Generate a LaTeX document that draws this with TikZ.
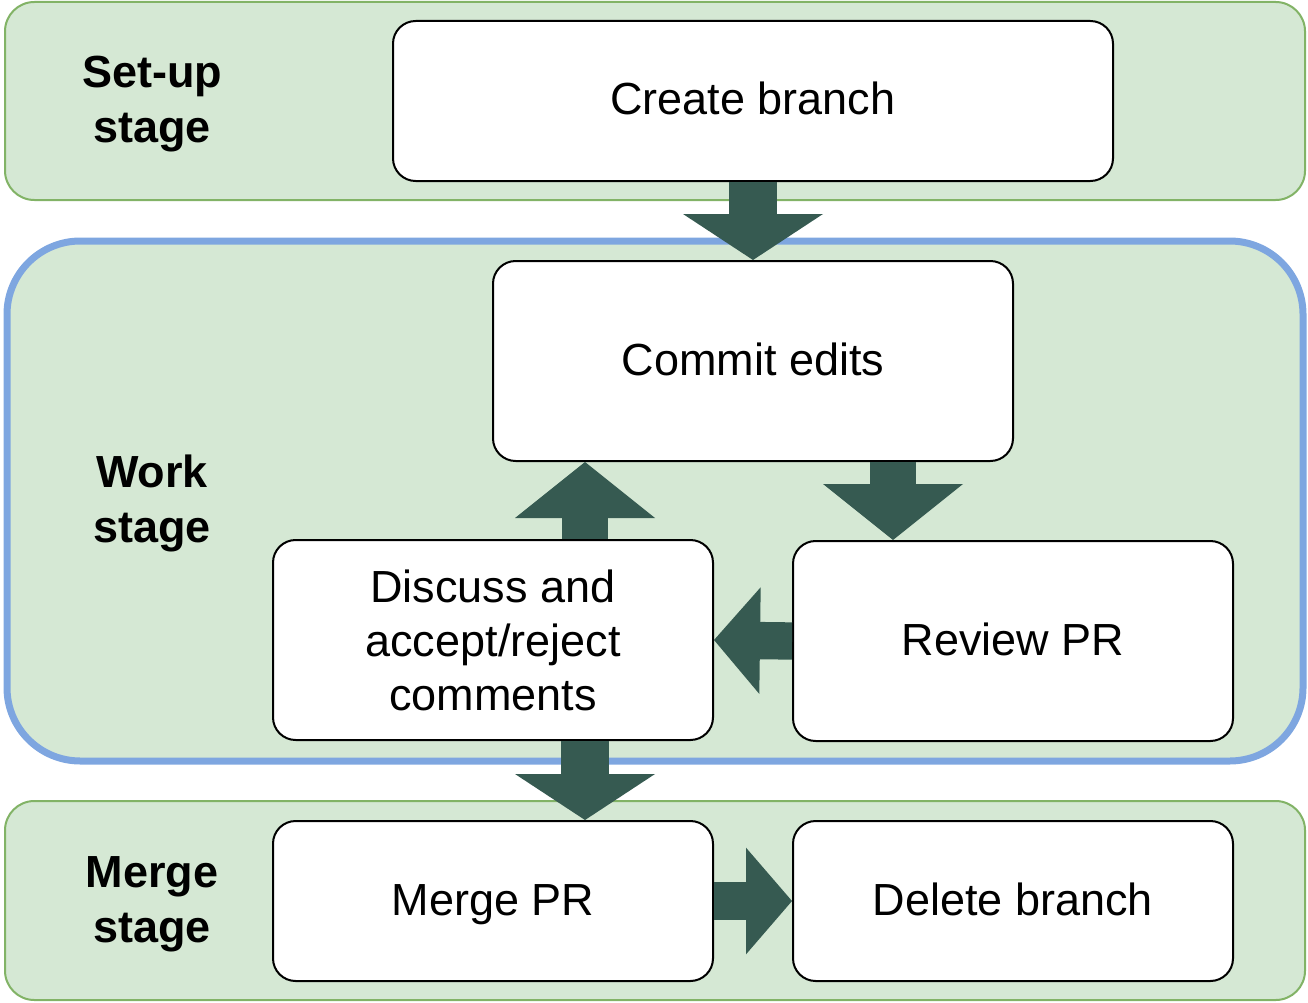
\documentclass[tikz,border=0pt]{standalone}
\usepackage{fontspec}
\setmainfont{Liberation Sans}
\usetikzlibrary{arrows.meta,calc}

\definecolor{bandfill}{RGB}{213,232,212}
\definecolor{banddraw}{RGB}{130,179,102}
\definecolor{workdraw}{RGB}{126,166,224}
\definecolor{flowfill}{RGB}{54,90,81}

\tikzset{
  stepnode/.style={draw=black, fill=white, line width=1.5pt, rounded corners=17pt, align=center, inner sep=0.75pt, font=\fontsize{33.75}{40.5}\selectfont},
  oneline/.style={text height=24.5pt, text depth=3.5pt},
  stagelabel/.style={align=center, inner sep=0.75pt, font=\fontsize{33.75}{41.25}\selectfont\bfseries},
  flow/.style n args={3}{draw=flowfill, line width=#1, -{Triangle[width=#2,length=#3,line width=0pt]}},
}

\begin{document}
\begin{tikzpicture}[x=0.75pt,y=0.75pt,yscale=-1,xscale=1]
\useasboundingbox (0,0) rectangle (1308,1002);

%Rounded Rect [set-up stage]
\draw [color=banddraw, fill=bandfill, line width=1.5pt, rounded corners=22pt] (5,2) rectangle (1305,200);
%Rounded Rect [work stage]
\draw [color=workdraw, fill=bandfill, line width=5.25pt, rounded corners=55pt] (7,241) rectangle (1303,761);
%Rounded Rect [merge stage]
\draw [color=banddraw, fill=bandfill, line width=1.5pt, rounded corners=22pt] (5,801) rectangle (1305,1000);

% Text Node
\draw (152,104) node [stagelabel] (setup) {Set-up\\stage};
% Text Node
\draw (152,503) node [stagelabel] (work) {Work\\stage};
% Text Node
\draw (152,904) node [stagelabel] (mergestage) {Merge\\stage};

%Rounded Rect
\draw (753,101) node [stepnode, oneline, minimum width=540pt, minimum height=120pt] (create) {Create branch};
%Rounded Rect
\draw (753,361) node [stepnode, oneline, minimum width=390pt, minimum height=150pt] (commit) {Commit edits};
%Rounded Rect
\draw (1013,641) node [stepnode, oneline, minimum width=330pt, minimum height=150pt] (review) {Review PR};
%Rounded Rect
\draw (493,640) node [stepnode, minimum width=330pt, minimum height=150pt] (discuss) {Discuss and\\accept/reject\\comments};
%Rounded Rect
\draw (493,901) node [stepnode, oneline, minimum width=330pt, minimum height=120pt] (merge) {Merge PR};
%Rounded Rect
\draw (1013,901) node [stepnode, oneline, minimum width=330pt, minimum height=120pt] (delete) {Delete branch};

%Shape: Down Arrow
\draw [flow={36pt}{105pt}{34.5pt}] (create.south) -- (commit.north);
%Shape: Down Arrow
\draw [flow={34.5pt}{105pt}{42pt}] ($(commit.south)+(140,0)$) -- ($(review.north)+(-120,0)$);
%Shape: Left Arrow
\draw [flow={28pt}{80pt}{34.5pt}] (review.west) -- (discuss.east);
%Shape: Up Arrow
\draw [flow={34.5pt}{105pt}{42pt}] ($(discuss.north)+(92,0)$) -- ($(commit.south)+(-168,0)$);
%Shape: Down Arrow
\draw [flow={36pt}{105pt}{34.5pt}] ($(discuss.south)+(92,0)$) -- ($(merge.north)+(92,0)$);
%Shape: Right Arrow
\draw [flow={28pt}{80pt}{34.5pt}] (merge.east) -- (delete.west);

\end{tikzpicture}
\end{document}
